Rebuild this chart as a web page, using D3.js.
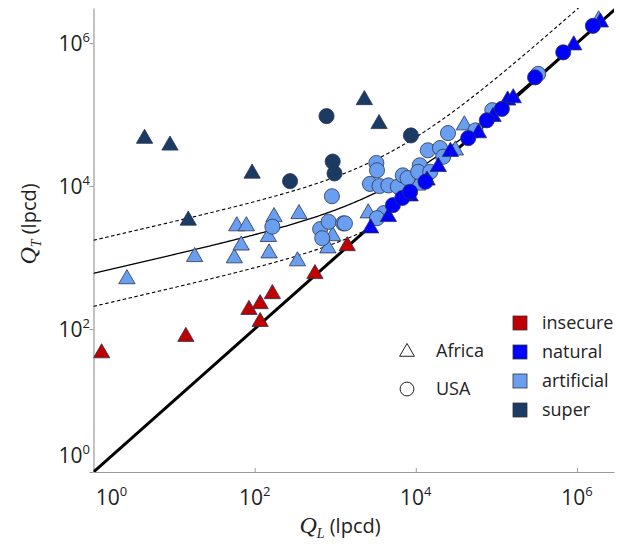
<!DOCTYPE html>
<html><head><meta charset="utf-8">
<script src="https://cdn.jsdelivr.net/npm/d3@7"></script>
<style>body{margin:0;background:#fff}svg{display:block}</style>
</head><body>
<svg id="c" width="620" height="547"></svg>
<script>
// ---- data (QL, QT in lpcd) ----
const superAfrica = [[4.3,46000],[8.9,37000],[93,15000],[15,3300],[2300,160000],[3500,74000]];
const superUSA = [[275,11700],[780,95000],[8700,51000],[930,22000],[980,15000]];
const insecureAfrica = [[1.26,46],[14,78],[85,186],[117,224],[166,309],[117,126],[560,590],[1410,1450]];
const artificialAfrica = [[2.6,500],[18,1020],[56,980],[60,2750],[79,2750],[68,1480],[148,1950],[151,1150],[174,3700],[355,4070],[340,890],[930,2000],[810,1350],[2570,4170],[10500,10200],[31000,31600],[40000,71000],[1860000,2090000]];
const artificialUSA = [[166,2700],[910,7200],[650,2500],[690,1860],[830,3160],[1260,3000],[1320,3000],[3240,21000],[3300,16600],[2700,10700],[3550,10000],[4570,10200],[6000,9800],[6900,14100],[7900,12900],[11200,19500],[10700,15800],[15100,15800],[14100,31600],[20000,34000],[21900,25700],[25100,55000],[55000,60000],[4000,4170],[3300,3550],[330000,370000],[89000,115000]];
const naturalAfrica = [[2750,2570],[4570,3700],[8500,7200],[13800,12000],[19000,18600],[26900,30200],[60000,55000],[91000,93000],[138000,158000],[162000,170000],[912000,933000],[1950000,1950000]];
const naturalUSA = [[5200,5400],[6800,6800],[8500,8300],[13200,11500],[44700,46800],[76000,83000],[117000,120000],[302000,331000],[676000,741000],[1580000,1740000]];
const categories = ["insecure","natural","artificial","super"];
const categoryColors = ["#c00000","#0000ff","#6a9ef0","#1b3a64"];
const regions = ["Africa","USA"];
const xTicks = [1,1e2,1e4,1e6];
const yTicks = [1,1e2,1e4,1e6];
const curveA = 600, curveB = 0.26, bandFactor = 2.9;

const svg = d3.select("#c");
const x = d3.scaleLog().domain([1, Math.pow(10,6.46)]).range([93.5, 614]);
const y = d3.scaleLog().domain([1, Math.pow(10,6.49)]).range([472, 8]);
const color = d3.scaleOrdinal().domain(categories).range(categoryColors);

svg.append("defs").append("clipPath").attr("id","clip")
  .append("rect").attr("x",93.5).attr("y",8).attr("width",520.5).attr("height",464);

// axes
svg.append("g").attr("transform","translate(0,472)")
  .call(d3.axisBottom(x).tickValues(xTicks).tickSizeInner(-4).tickSizeOuter(0).tickFormat(""));
svg.append("g").attr("transform","translate(93.5,0)")
  .call(d3.axisLeft(y).tickValues(yTicks).tickSizeInner(4).tickSizeOuter(0).tickFormat(""));
svg.selectAll(".domain").attr("stroke","#9a9a9a").attr("stroke-width",1.2);
svg.selectAll(".tick line").attr("stroke","#9a9a9a");

const font = "'Open Sans', sans-serif";
function pow10Label(sel, v){
  const e = Math.round(Math.log10(v));
  sel.append("tspan").text("10");
  sel.append("tspan").attr("font-size",13).attr("dy",-9).text(e);
}
xTicks.forEach(v=>{
  const t = svg.append("text").attr("x", x(v) + (v===1?18:0)).attr("y",505)
    .attr("text-anchor","middle").attr("font-family",font).attr("font-size",21).attr("fill","#222");
  pow10Label(t,v);
});
yTicks.forEach(v=>{
  const t = svg.append("text").attr("x",90).attr("y", y(v) + 8 - (v===1?17:0))
    .attr("text-anchor","end").attr("font-family",font).attr("font-size",21).attr("fill","#222");
  pow10Label(t,v);
});

// axis titles
const xt = svg.append("text").attr("x",340).attr("y",533).attr("text-anchor","middle")
  .attr("font-family",font).attr("font-size",20).attr("fill","#222");
xt.append("tspan").attr("font-family","'Liberation Serif', serif").attr("font-style","italic").attr("font-size",24).text("Q");
xt.append("tspan").attr("font-family","'Liberation Serif', serif").attr("font-style","italic").attr("font-size",14).attr("dy",5).text("L");
xt.append("tspan").attr("dy",-5).text(" (lpcd)");
const yt = svg.append("text").attr("transform","translate(36,224) rotate(-90)").attr("text-anchor","middle")
  .attr("font-family",font).attr("font-size",20).attr("fill","#222");
yt.append("tspan").attr("font-family","'Liberation Serif', serif").attr("font-style","italic").attr("font-size",24).text("Q");
yt.append("tspan").attr("font-family","'Liberation Serif', serif").attr("font-style","italic").attr("font-size",14).attr("dy",5).text("T");
yt.append("tspan").attr("dy",-5).text(" (lpcd)");

// curves
const plot = svg.append("g").attr("clip-path","url(#clip)");
const qs = d3.range(0, 6.5, 0.02).map(l=>Math.pow(10,l));
const fit = q => q + curveA*Math.pow(q,curveB);
const line = d3.line().x(d=>x(d[0])).y(d=>y(d[1]));
plot.append("path").attr("d", line(qs.map(q=>[q,fit(q)]))).attr("fill","none").attr("stroke","#000").attr("stroke-width",1.3);
plot.append("path").attr("d", line(qs.map(q=>[q,fit(q)*bandFactor]))).attr("fill","none").attr("stroke","#000").attr("stroke-width",1.1).attr("stroke-dasharray","3.5,2.5");
plot.append("path").attr("d", line(qs.filter(q=>fit(q)/bandFactor>q*0.97).map(q=>[q,fit(q)/bandFactor]))).attr("fill","none").attr("stroke","#000").attr("stroke-width",1.1).attr("stroke-dasharray","3.5,2.5");
plot.append("path").attr("d", line([[1,1],[Math.pow(10,6.5),Math.pow(10,6.5)]])).attr("fill","none").attr("stroke","#000").attr("stroke-width",3);

// markers
const tri = d3.symbol().type(d3.symbolTriangle).size(115);
const circ = d3.symbol().type(d3.symbolCircle).size(180);
function draw(data, cat, shape){
  plot.append("g").selectAll("path").data(data).join("path")
    .attr("transform", d=>`translate(${x(d[0])},${y(d[1])})`)
    .attr("d", shape==="Africa"?tri:circ)
    .attr("fill", color(cat)).attr("stroke","#2a3550").attr("stroke-width",0.8);
}
draw(artificialAfrica,"artificial","Africa");
draw(artificialUSA,"artificial","USA");
draw(naturalAfrica,"natural","Africa");
draw(naturalUSA,"natural","USA");
draw(superAfrica,"super","Africa");
draw(superUSA,"super","USA");
draw(insecureAfrica,"insecure","Africa");

// legend
const lg = svg.append("g");
regions.forEach((r,i)=>{
  const cy = 351 + i*38;
  lg.append("path").attr("transform",`translate(407,${cy + (i===0?1:0)})`)
    .attr("d", i===0?d3.symbol().type(d3.symbolTriangle).size(95)():d3.symbol().type(d3.symbolCircle).size(150)())
    .attr("fill","none").attr("stroke","#222").attr("stroke-width",1);
  lg.append("text").attr("x",436).attr("y",cy+6).attr("font-family",font).attr("font-size",18).attr("fill","#222").text(r);
});
categories.forEach((c,i)=>{
  const cy = 323 + i*29;
  lg.append("rect").attr("x",513).attr("y",cy-7).attr("width",14).attr("height",14)
    .attr("fill",color(c)).attr("stroke","#333").attr("stroke-width",0.8);
  lg.append("text").attr("x",542).attr("y",cy+6).attr("font-family",font).attr("font-size",18).attr("fill","#222").text(c);
});
</script>
</body></html>
